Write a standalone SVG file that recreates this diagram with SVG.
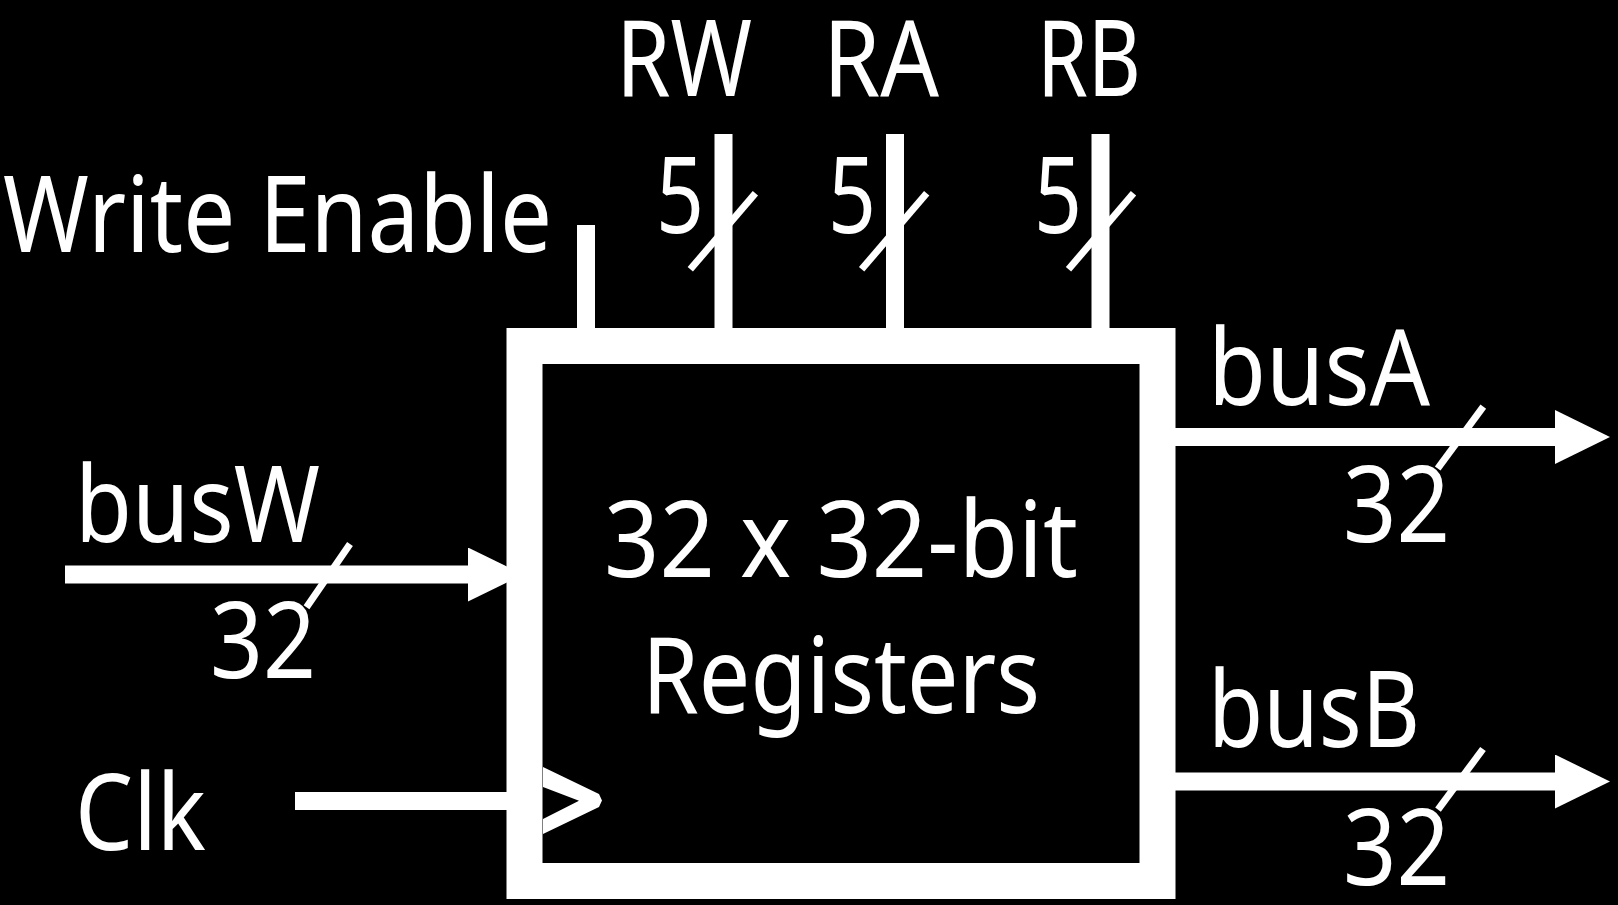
<svg xmlns="http://www.w3.org/2000/svg" width="1618" height="905" viewBox="0 0 1618 905">
  <style>
    .t { font-family: "Noto Sans", "Liberation Sans", sans-serif; font-size: 106px; fill: #fff; }
    .bus { stroke: #fff; stroke-width: 18; fill: none; }
    .slash { stroke: #fff; stroke-width: 7; stroke-linecap: butt; fill: none; }
  </style>
  <defs>
    <marker id="arrow" viewBox="0 0 55 54" markerWidth="55" markerHeight="54" refX="0" refY="27" orient="auto" markerUnits="userSpaceOnUse">
      <path d="M0,0 L55,27 L0,54 Z" fill="#fff"/>
    </marker>
  </defs>
  <rect x="0" y="0" width="1618" height="905" fill="#000"/>

  <g id="connectors">
    <!-- Write Enable stub -->
    <line class="bus" x1="586" y1="225" x2="586" y2="330"/>
    <!-- RW, RA, RB buses -->
    <line class="bus" x1="723.5" y1="134" x2="723.5" y2="330"/>
    <line class="bus" x1="895" y1="134" x2="895" y2="330"/>
    <line class="bus" x1="1100.5" y1="134" x2="1100.5" y2="330"/>
    <line class="slash" x1="755.4" y1="193.3" x2="690.3" y2="269.3"/>
    <line class="slash" x1="926.7" y1="193.3" x2="861.6" y2="269.3"/>
    <line class="slash" x1="1133.5" y1="193.3" x2="1068.5" y2="269.3"/>
    <text class="t" x="656" y="233" textLength="48" lengthAdjust="spacingAndGlyphs">5</text>
    <text class="t" x="828" y="233" textLength="48" lengthAdjust="spacingAndGlyphs">5</text>
    <text class="t" x="1034" y="233" textLength="48" lengthAdjust="spacingAndGlyphs">5</text>
    <!-- busW -->
    <line class="bus" x1="65" y1="574.5" x2="468" y2="574.5" marker-end="url(#arrow)"/>
    <line class="slash" x1="350" y1="544" x2="306.5" y2="607.3"/>
    <text class="t" x="210" y="678" textLength="106" lengthAdjust="spacingAndGlyphs">32</text>
    <!-- Clk -->
    <line class="bus" x1="295" y1="801" x2="508" y2="801"/>
    <!-- busA -->
    <line class="bus" x1="1174" y1="437" x2="1555" y2="437" marker-end="url(#arrow)"/>
    <line class="slash" x1="1483.3" y1="406.6" x2="1437.7" y2="468.5"/>
    <text class="t" x="1343" y="542" textLength="107" lengthAdjust="spacingAndGlyphs">32</text>
    <!-- busB -->
    <line class="bus" x1="1174" y1="781.5" x2="1555" y2="781.5" marker-end="url(#arrow)"/>
    <line class="slash" x1="1483" y1="749" x2="1438" y2="809.6"/>
    <text class="t" x="1343" y="885" textLength="107" lengthAdjust="spacingAndGlyphs">32</text>
  </g>

  <g id="register-file">
    <rect x="524.5" y="346" width="633" height="535" fill="#000" stroke="#fff" stroke-width="36"/>
    <polygon points="543,767 599,794 602,800.5 599,807 543,834 543,819 579,800.7 543,787" fill="#fff"/>
    <text class="t" x="841" y="577" text-anchor="middle" textLength="474" lengthAdjust="spacingAndGlyphs">32 x 32-bit</text>
    <text class="t" x="841" y="713" text-anchor="middle" textLength="398" lengthAdjust="spacingAndGlyphs">Registers</text>
  </g>

  <g id="write-enable">
    <text class="t" x="3" y="252" textLength="549" lengthAdjust="spacingAndGlyphs">Write Enable</text>
  </g>
  <g id="rw">
    <text class="t" x="616" y="96" textLength="136" lengthAdjust="spacingAndGlyphs">RW</text>
  </g>
  <g id="ra">
    <text class="t" x="823" y="96" textLength="116" lengthAdjust="spacingAndGlyphs">RA</text>
  </g>
  <g id="rb">
    <text class="t" x="1037" y="96" textLength="104" lengthAdjust="spacingAndGlyphs">RB</text>
  </g>
  <g id="busW">
    <text class="t" x="75" y="542" textLength="245" lengthAdjust="spacingAndGlyphs">busW</text>
  </g>
  <g id="clk">
    <text class="t" x="75" y="850" textLength="131" lengthAdjust="spacingAndGlyphs">Clk</text>
  </g>
  <g id="busA">
    <text class="t" x="1208" y="405" textLength="222" lengthAdjust="spacingAndGlyphs">busA</text>
  </g>
  <g id="busB">
    <text class="t" x="1208" y="747" textLength="212" lengthAdjust="spacingAndGlyphs">busB</text>
  </g>
</svg>
